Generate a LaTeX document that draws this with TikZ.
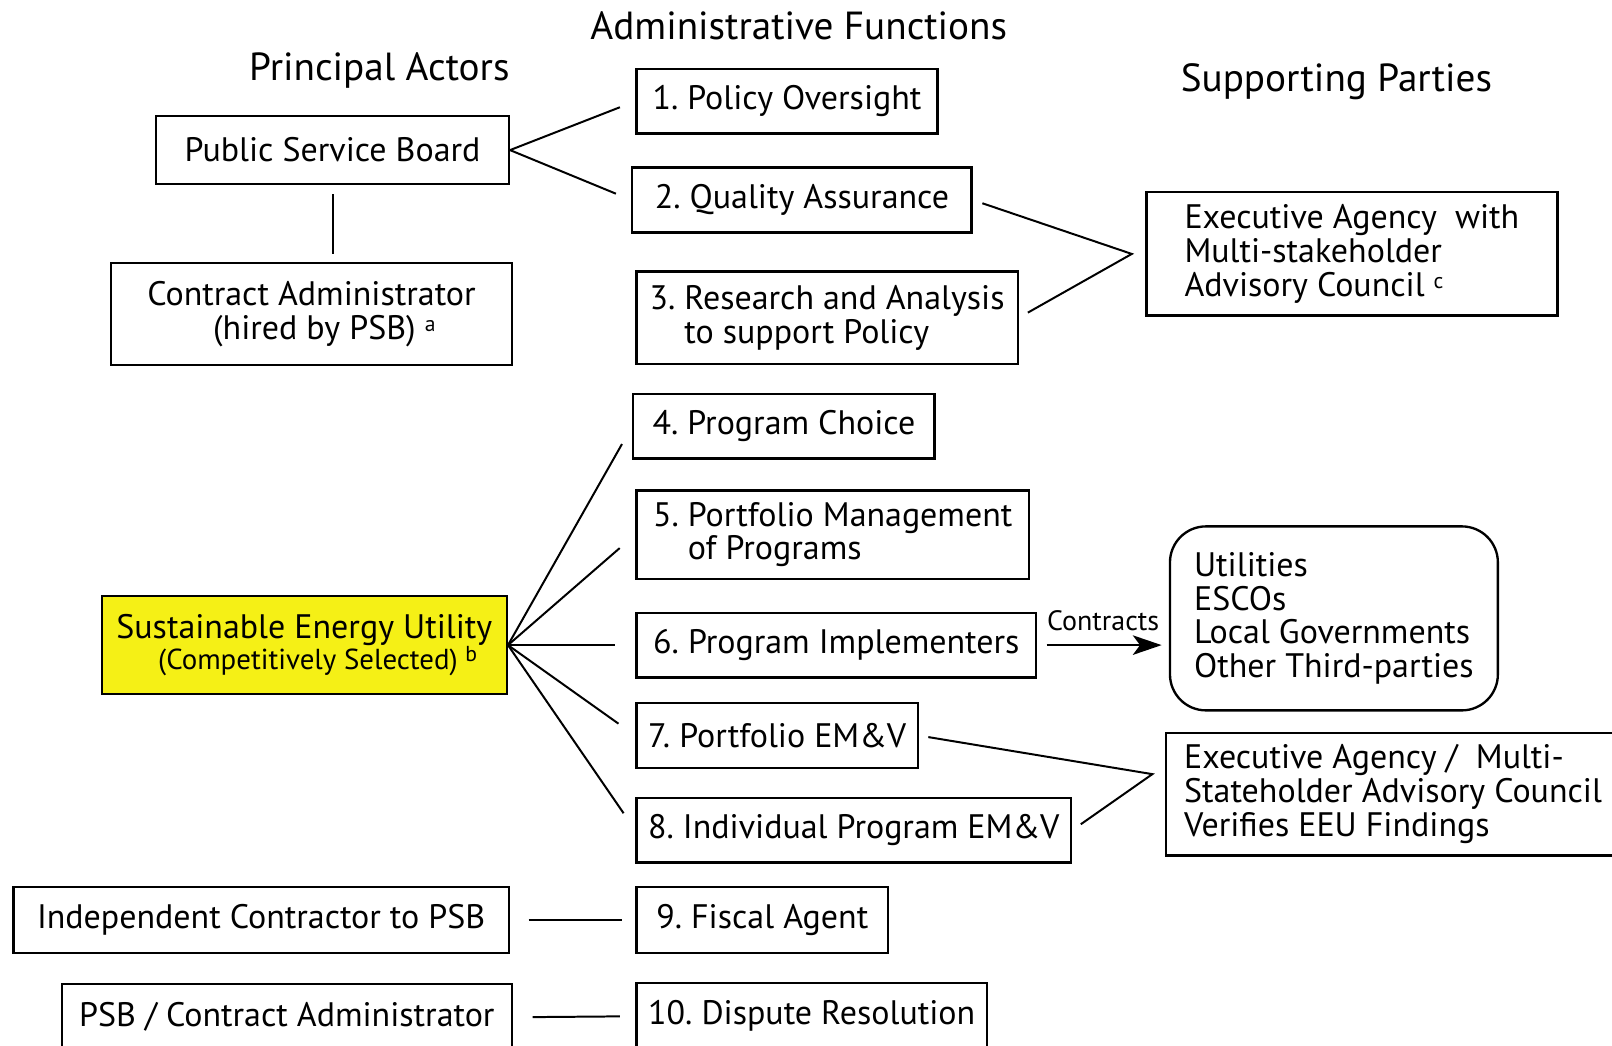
\documentclass[tikz,border=0pt]{standalone}
\usepackage{fontspec}
\setmainfont{PT Sans}
\usepackage{xcolor}
\usetikzlibrary{arrows.meta}
\definecolor{seuyellow}{RGB}{245,240,22}
\newcommand{\notemark}[1]{\raisebox{4.5pt}{\fontsize{12}{12}\selectfont #1}}

\begin{document}
\begin{tikzpicture}[x=0.02cm,y=-0.02cm,
  box/.style={draw,line width=1.3pt,inner sep=0pt,font=\fontsize{18.8}{18.8}\selectfont\frenchspacing},
  fbox/.style={box,minimum height=1.26cm},
  title/.style={font=\fontsize{21.7}{24}\selectfont},
  link/.style={line width=1.1pt},
  contract/.style={link,-{Stealth[length=0.56cm,width=0.38cm,inset=0.14cm]}}]
\clip (0,0) rectangle (1568,1017);
\node[title] (adm) at (777,25) {Administrative Functions};
\node[title] (pa) at (369,69) {Principal Actors};
\node[title] (sp) at (1300,79) {Supporting Parties};
\node[box,minimum width=6.86cm,minimum height=1.32cm] (psb) at (323.5,146) {Public Service Board};
\node[box,minimum width=7.8cm,minimum height=1.98cm,align=center] (ca) at (303,305.5) {Contract Administrator\\\hspace*{0.5cm}(hired by PSB)~\notemark{a}};
\node[box,fill=seuyellow,minimum width=7.88cm,minimum height=1.9cm,align=center] (seu) at (296,627.5) {Sustainable Energy Utility\\[-2pt]{\fontsize{16}{17}\selectfont\hspace*{0.52cm}(Competitively Selected)~\notemark{b}}};
\node[box,minimum width=9.64cm,minimum height=1.28cm] (ic) at (254,895) {Independent Contractor to PSB};
\node[box,minimum width=8.76cm,minimum height=1.3cm] (pca) at (279,989.5) {PSB / Contract Administrator};
\node[fbox,minimum width=5.86cm] (f1) at (765.5,98.5) {1. Policy Oversight};
\node[fbox,minimum width=6.6cm] (f2) at (780,194.5) {2. Quality Assurance};
\node[fbox,minimum width=7.42cm,minimum height=1.8cm,align=left] (f3) at (804.5,309) {3. Research and Analysis\\\phantom{3. }to support Policy};
\node[fbox,minimum width=5.86cm] (f4) at (762.5,414.5) {4. Program Choice};
\node[fbox,minimum width=7.64cm,minimum height=1.72cm,align=left] (f5) at (810,520) {5. Portfolio Management\\\phantom{5. }of Programs};
\node[fbox,minimum width=7.78cm] (f6) at (813.5,627.5) {6. Program Implementers};
\node[fbox,minimum width=5.48cm] (f7) at (756,715.5) {7. Portfolio EM\&V};
\node[fbox,minimum width=8.46cm] (f8) at (830.5,807.5) {8. Individual Program EM\&V};
\node[fbox,minimum width=4.9cm,minimum height=1.28cm] (f9) at (741.5,895) {9. Fiscal Agent};
\node[fbox,minimum width=6.82cm,minimum height=1.3cm] (f10) at (789.5,988.5) {10. Dispute Resolution};
\node[box,minimum width=8cm,minimum height=2.4cm,align=left] (exec) at (1315,247) {Executive Agency\ \ with\\Multi-stakeholder\\Advisory Council~\notemark{c}};
\node[box,rounded corners=0.7cm,minimum width=6.38cm,minimum height=3.58cm,align=left] (util) at (1297.5,601.5) {Utilities\\ESCOs\\Local Governments\\Other Third-parties};
\node[box,minimum width=8.84cm,minimum height=2.38cm,align=left] (em) at (1355,772.5) {Executive Agency /\ \ Multi-\\Stateholder Advisory Council\\Verifies EEU Findings};
\coordinate (qa) at ([xshift=-0.26cm]exec.west);
\coordinate (ev) at ([xshift=-0.24cm,yshift=0.39cm]em.west);
\draw[link,shorten >=0.32cm] (psb.east) -- (f1.west);
\draw[link,shorten >=0.32cm] (psb.east) -- (f2.west);
\draw[link,shorten <=0.18cm,shorten >=0.16cm] (psb.south) -- (psb.south |- ca.north);
\draw[link,shorten <=0.2cm,shorten >=0.2cm] (f2.east) -- (qa) -- (f3.east);
\foreach \f in {f4,f5,f6,f7,f8}
  \draw[link,shorten >=0.4cm] (seu.east) -- (\f.west);
\draw[contract,shorten <=0.18cm,shorten >=0.14cm] (f6.east) -- node[above=4pt,font=\fontsize{15.5}{16}\selectfont] (ctr) {Contracts} (f6.east -| util.west);
\draw[link,shorten <=0.18cm,shorten >=0.2cm] (f7.east) -- (ev) -- (f8.east);
\draw[link,shorten <=0.36cm,shorten >=0.26cm] (ic.east) -- (f9.west);
\draw[link,shorten <=0.38cm,shorten >=0.3cm] (pca.east) -- (f10.west);
\end{tikzpicture}
\end{document}
